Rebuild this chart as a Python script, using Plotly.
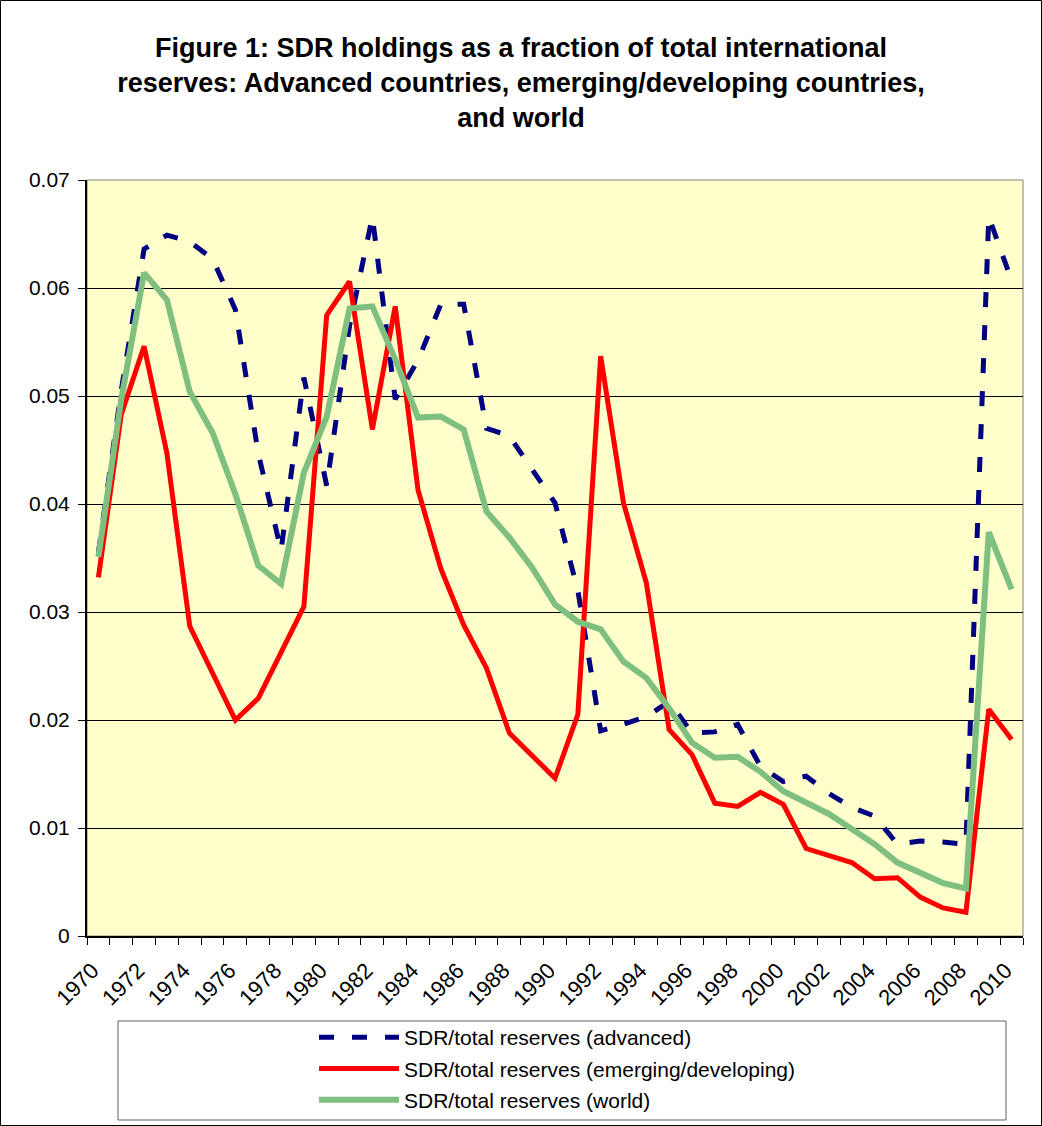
import plotly.graph_objects as go

years = [1970, 1971, 1972, 1973, 1974, 1975, 1976, 1977, 1978, 1979,
         1980, 1981, 1982, 1983, 1984, 1985, 1986, 1987, 1988, 1989,
         1990, 1991, 1992, 1993, 1994, 1995, 1996, 1997, 1998, 1999,
         2000, 2001, 2002, 2003, 2004, 2005, 2006, 2007, 2008, 2009, 2010]

advanced = [0.0355, 0.0505, 0.0636, 0.0649, 0.0643, 0.0627, 0.0580, 0.0447, 0.0357, 0.0517,
            0.0417, 0.0565, 0.0666, 0.0497, 0.0533, 0.0585, 0.0585, 0.0470, 0.0463, 0.0432,
            0.0401, 0.0320, 0.0190, 0.0196, 0.0203, 0.0217, 0.0188, 0.0189, 0.0196, 0.0157,
            0.0143, 0.0148, 0.0132, 0.0119, 0.0111, 0.0085, 0.0088, 0.0087, 0.0085, 0.0666,
            0.0607]

emerging = [0.0332, 0.0483, 0.0546, 0.0447, 0.0287, 0.0244, 0.0200, 0.0220, 0.0262, 0.0305,
            0.0575, 0.0606, 0.0469, 0.0583, 0.0413, 0.0340, 0.0288, 0.0248, 0.0188, 0.0167,
            0.0146, 0.0205, 0.0537, 0.0401, 0.0327, 0.0191, 0.0168, 0.0123, 0.0120, 0.0133,
            0.0122, 0.0081, 0.0075, 0.0068, 0.0053, 0.0054, 0.0036, 0.0026, 0.0022, 0.0210,
            0.0182]

world = [0.0351, 0.0497, 0.0614, 0.0589, 0.0504, 0.0466, 0.0409, 0.0343, 0.0326, 0.0429,
         0.0481, 0.0581, 0.0583, 0.0534, 0.0480, 0.0481, 0.0469, 0.0393, 0.0369, 0.0341,
         0.0307, 0.0291, 0.0284, 0.0254, 0.0239, 0.0211, 0.0179, 0.0165, 0.0166, 0.0152,
         0.0134, 0.0124, 0.0113, 0.0099, 0.0085, 0.0068, 0.0059, 0.0049, 0.0044, 0.0374,
         0.0321]

x_tick_labels = ["1970", "1972", "1974", "1976", "1978", "1980", "1982", "1984", "1986",
                 "1988", "1990", "1992", "1994", "1996", "1998", "2000", "2002", "2004",
                 "2006", "2008", "2010"]
y_tick_vals = [0, 0.01, 0.02, 0.03, 0.04, 0.05, 0.06, 0.07]
y_tick_text = ["0", "0.01", "0.02", "0.03", "0.04", "0.05", "0.06", "0.07"]

series_names = ["SDR/total reserves (advanced)",
                "SDR/total reserves (emerging/developing)",
                "SDR/total reserves (world)"]

FONT = "Liberation Sans, Arial, sans-serif"

fig = go.Figure()
fig.add_trace(go.Scatter(x=years, y=advanced, mode="lines", name=series_names[0],
                         legendgroup="a",
                         line=dict(color="#000080", width=5, dash="15px,18px")))
fig.add_trace(go.Scatter(x=years, y=emerging, mode="lines", name=series_names[1],
                         legendgroup="e",
                         line=dict(color="#FF0000", width=5)))
fig.add_trace(go.Scatter(x=years, y=world, mode="lines", name=series_names[2],
                         legendgroup="w",
                         line=dict(color="#7FBF7F", width=6)))

W, H = 1042, 1126
L, R, T, B = 87, 19, 180, 190
pw, ph = W - L - R, H - T - B

def px_x(p):
    return (p - L) / pw

def px_y(p):
    return (H - B - p) / ph

shapes = [
    dict(type="rect", xref="paper", yref="paper", x0=0, x1=1, y0=0, y1=1,
         line=dict(color="#808080", width=1), layer="below"),
    dict(type="rect", xref="paper", yref="paper",
         x0=px_x(118), x1=px_x(1006), y0=px_y(1021), y1=px_y(1120),
         line=dict(color="#606060", width=1)),
    dict(type="rect", xref="paper", yref="paper",
         x0=px_x(0.5), x1=px_x(1041.5), y0=px_y(0.5), y1=px_y(1125.5),
         line=dict(color="#000000", width=1)),
]

fig.update_layout(
    width=W, height=H,
    margin=dict(l=L, r=R, t=T, b=B, autoexpand=False),
    paper_bgcolor="white",
    plot_bgcolor="#FFFFCC",
    font=dict(family=FONT, color="black", size=20),
    title=dict(
        text="<b>Figure 1: SDR holdings as a fraction of total international<br>"
             "reserves: Advanced countries, emerging/developing countries,<br>"
             "and world</b>",
        x=0.5, xref="container", xanchor="center",
        y=1 - 57 / H, yref="container", yanchor="middle",
        font=dict(family=FONT, size=27, color="black"),
    ),
    xaxis=dict(
        range=[1969.5, 2010.5],
        tickvals=[int(t) for t in x_tick_labels], ticktext=x_tick_labels,
        tickangle=-45, ticks="", showgrid=False, zeroline=False,
        showline=True, linecolor="black", linewidth=2,
        tickfont=dict(family=FONT, size=22, color="black"),
        ticklabelstandoff=11, ticklabelshift=-6,
        automargin=False,
        minor=dict(ticks="outside", tick0=1969.5, dtick=1, ticklen=7,
                   tickcolor="black", tickwidth=1, showgrid=False),
    ),
    yaxis=dict(
        range=[0, 0.07],
        tickvals=y_tick_vals, ticktext=y_tick_text,
        ticks="outside", ticklen=7, tickcolor="black", tickwidth=1,
        showgrid=True, gridcolor="black", gridwidth=1, zeroline=False,
        showline=True, linecolor="black", linewidth=2,
        tickfont=dict(family=FONT, size=21, color="black"),
        ticklabelstandoff=4, automargin=False,
    ),
    legend=dict(
        x=px_x(314), xanchor="left", y=px_y(1017), yanchor="top",
        bgcolor="rgba(0,0,0,0)", borderwidth=0,
        font=dict(family=FONT, size=21, color="black"),
        tracegroupgap=1, itemwidth=80,
    ),
    showlegend=True,
    shapes=shapes,
)

fig.write_html("out.html", config={"displayModeBar": False},
               post_script="document.body.style.margin='0px';")
